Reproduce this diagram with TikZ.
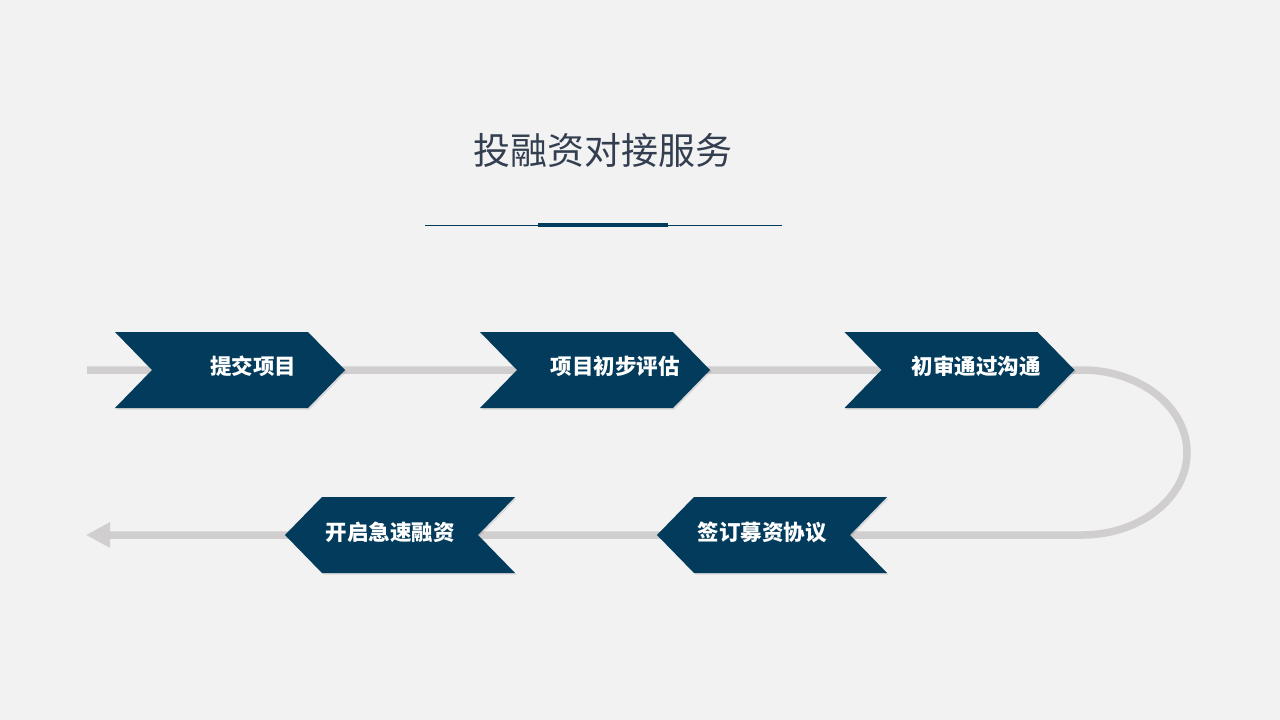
\documentclass[tikz,border=0pt]{standalone}
\usepackage{fontspec}
\newfontfamily\cjk{Noto Sans CJK SC}
\usetikzlibrary{arrows.meta}
\definecolor{bg}{HTML}{F2F2F2}
\definecolor{navy}{HTML}{023B5B}
\definecolor{flowgray}{HTML}{D0CECE}
\definecolor{titlec}{HTML}{333F50}
\tikzset{
  chevshade/.style={fill=black,opacity=0.10},
  chevr/.pic={
    \fill[chevshade,shift={(1.5,1.5)}] (-115,-38) -- (78,-38) -- (115,0) -- (78,38) -- (-115,38) -- (-78,0) -- cycle;
    \fill[navy] (-115,-38) -- (78,-38) -- (115,0) -- (78,38) -- (-115,38) -- (-78,0) -- cycle;},
  chevl/.pic={
    \fill[chevshade,shift={(1.5,1.5)}] (115,-38) -- (-78,-38) -- (-115,0) -- (-78,38) -- (115,38) -- (78,0) -- cycle;
    \fill[navy] (115,-38) -- (-78,-38) -- (-115,0) -- (-78,38) -- (115,38) -- (78,0) -- cycle;},
  steplabel/.style={font=\cjk\bfseries\fontsize{21.5}{21.5}\selectfont,text=white,inner sep=0pt},
  flowline/.style={draw=flowgray,line width=7.5pt},
}
\begin{document}
\begin{tikzpicture}[x=1pt,y=-1pt]
\fill[bg] (0,0) rectangle (1280,720);
\useasboundingbox (0,0) rectangle (1280,720);
% title
\node[font=\cjk\fontsize{37}{37}\selectfont,text=titlec,inner sep=0pt] (title) at (603,150) {投融资对接服务};
\coordinate (ula) at (425,225);
\coordinate (ulb) at (782,225);
\coordinate (uta) at (538,225);
\coordinate (utb) at (668,225);
\draw[navy,line width=1pt] (ula) -- (ulb);
\draw[navy,line width=4pt] (uta) -- (utb);
% flow line
\coordinate (fs) at (87,370);
\coordinate (fa) at (1082,370);
\coordinate (fb) at (1082,535);
\coordinate (fe) at (86,535);
\draw[flowline,-{Triangle[length=24pt,width=24pt]}] (fs) -- (fa)
  arc[start angle=-90,end angle=90,x radius=105,y radius=82.5] -- (fe);
% chevrons
\pic at (230,370) {chevr};
\pic at (595,370) {chevr};
\pic at (959.5,370) {chevr};
\pic at (772,535) {chevl};
\pic at (400,535) {chevl};
% labels
\node[steplabel] (s1) at (253,366) {提交项目};
\node[steplabel] (s2) at (615,366) {项目初步评估};
\node[steplabel] (s3) at (976,366) {初审通过沟通};
\node[steplabel] (s4) at (762,532) {签订募资协议};
\node[steplabel] (s5) at (390,532) {开启急速融资};
\end{tikzpicture}
\end{document}
